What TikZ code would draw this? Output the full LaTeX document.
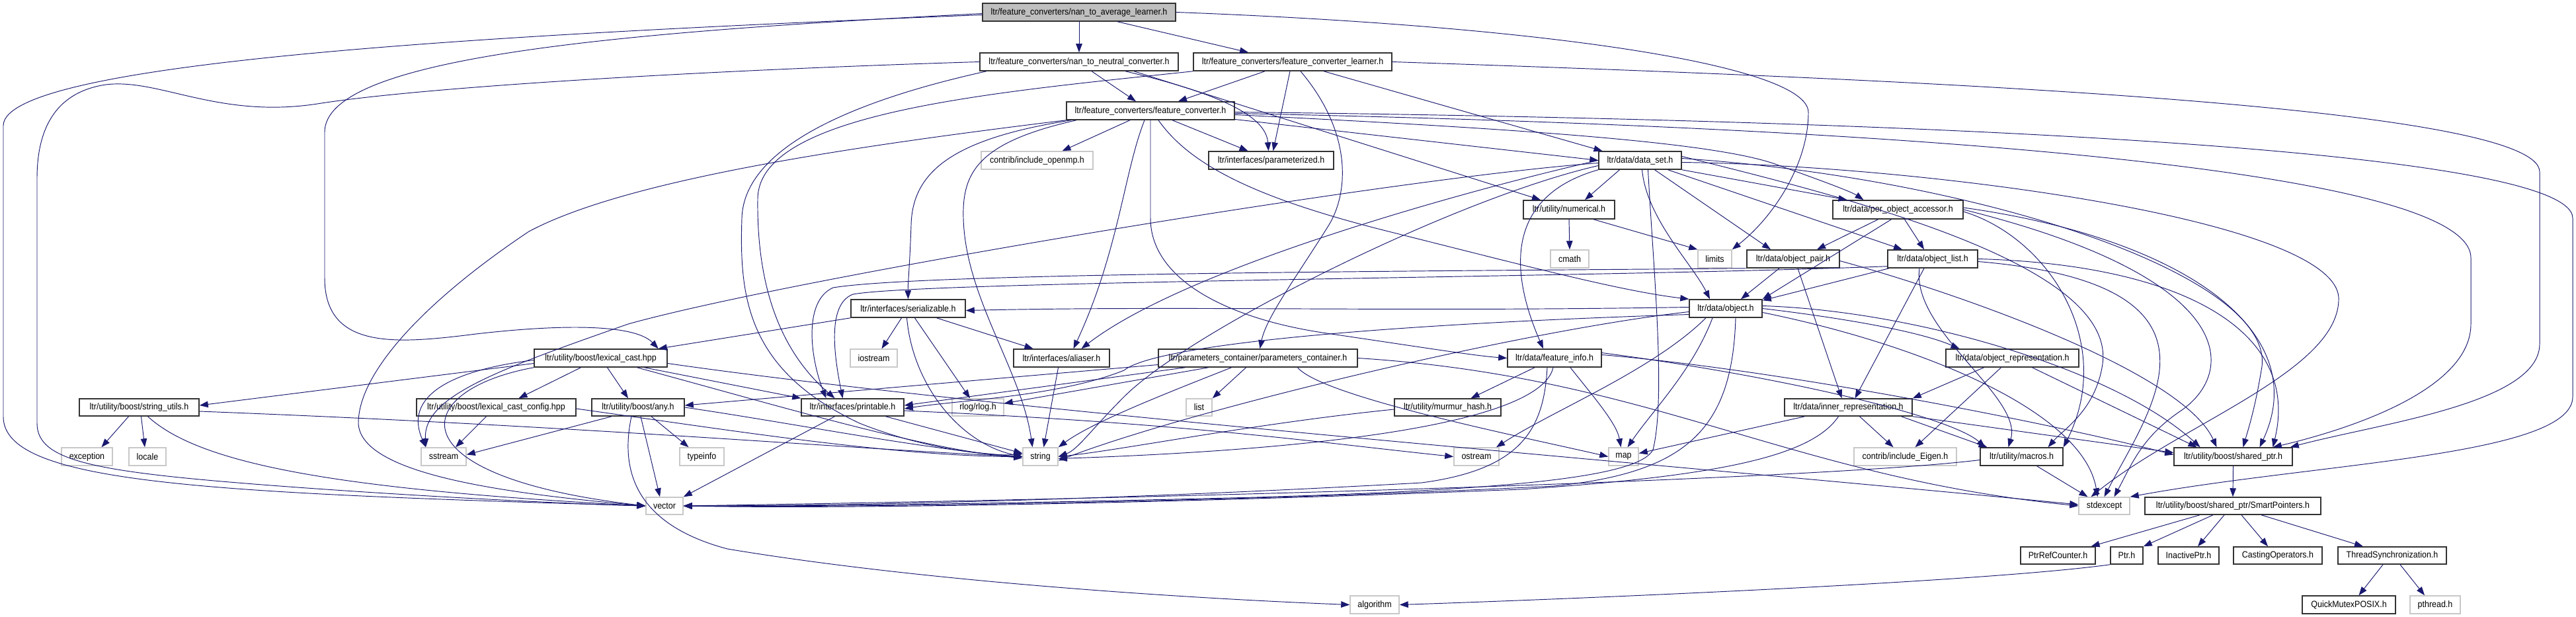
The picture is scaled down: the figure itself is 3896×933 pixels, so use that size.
\documentclass[tikz,border=0pt]{standalone}
\usepackage{fontspec}
\setmainfont{Liberation Sans}[FakeStretch=0.91]
\usetikzlibrary{arrows.meta}
\definecolor{ecol}{HTML}{191970}
\definecolor{gfill}{HTML}{BFBFBF}
\definecolor{gline}{HTML}{C8C8C8}
\tikzset{
 base/.style={rectangle, inner sep=0pt, font=\fontsize{13.7}{14}\selectfont, text=black, line width=1.5pt},
 hb/.style={base, draw=black!80, fill=white},
 gb/.style={base, draw=gline, fill=white},
 rb/.style={base, draw=black!80, fill=gfill},
 dep/.style={draw=ecol, line width=0.95pt, -{Triangle[length=13pt,width=9.5pt]}},
}
\newcommand\bx[7]{\node[#1,minimum width={(#4)-(#3)},minimum height={(#6)-(#5)}] (#2) at ({((#3)+(#4))/2},{((#5)+(#6))/2}) {#7};}
\begin{document}
\begin{tikzpicture}[x=1pt,y=-1pt]
\fill[white] (0,0) rectangle (3896,933);
\useasboundingbox (0,0) rectangle (3896,933);
% nodes
\bx{rb}{R}{1486}{1778}{5}{32}{ltr/feature\_converters/nan\_to\_average\_learner.h}
\bx{hb}{NN}{1482}{1782}{80}{107}{ltr/feature\_converters/nan\_to\_neutral\_converter.h}
\bx{hb}{FCL}{1805}{2105}{80}{107}{ltr/feature\_converters/feature\_converter\_learner.h}
\bx{hb}{FC}{1613}{1867}{154}{181}{ltr/feature\_converters/feature\_converter.h}
\bx{gb}{OMP}{1484}{1653}{229}{256}{contrib/include\_openmp.h}
\bx{hb}{PZ}{1828}{2017}{229}{256}{ltr/interfaces/parameterized.h}
\bx{hb}{DS}{2418}{2543}{229}{256}{ltr/data/data\_set.h}
\bx{hb}{NUM}{2304}{2442}{303}{331}{ltr/utility/numerical.h}
\bx{hb}{POA}{2772}{2969}{303}{331}{ltr/data/per\_object\_accessor.h}
\bx{gb}{CMATH}{2345}{2403}{378}{405}{cmath}
\bx{gb}{LIM}{2568}{2619}{378}{405}{limits}
\bx{hb}{OP}{2642}{2782}{378}{405}{ltr/data/object\_pair.h}
\bx{hb}{OL}{2855}{2991}{378}{405}{ltr/data/object\_list.h}
\bx{hb}{SER}{1287}{1460}{453}{480}{ltr/interfaces/serializable.h}
\bx{hb}{OBJ}{2555}{2665}{453}{480}{ltr/data/object.h}
\bx{gb}{IOS}{1286}{1357}{528}{555}{iostream}
\bx{hb}{AL}{1533}{1678}{528}{555}{ltr/interfaces/aliaser.h}
\bx{hb}{PC}{1752}{2053}{528}{555}{ltr/parameters\_container/parameters\_container.h}
\bx{hb}{FI}{2280}{2422}{528}{555}{ltr/data/feature\_info.h}
\bx{hb}{OR}{2943}{3144}{528}{555}{ltr/data/object\_representation.h}
\bx{hb}{LC}{808}{1009}{528}{555}{ltr/utility/boost/lexical\_cast.hpp}
\bx{hb}{SU}{120}{301}{603}{629}{ltr/utility/boost/string\_utils.h}
\bx{hb}{LCC}{630}{871}{603}{629}{ltr/utility/boost/lexical\_cast\_config.hpp}
\bx{hb}{ANY}{895}{1035}{603}{629}{ltr/utility/boost/any.h}
\bx{hb}{PR}{1212}{1367}{603}{629}{ltr/interfaces/printable.h}
\bx{gb}{RLOG}{1440}{1518}{603}{629}{rlog/rlog.h}
\bx{gb}{LIST}{1794}{1833}{603}{629}{list}
\bx{hb}{MH}{2109}{2270}{603}{629}{ltr/utility/murmur\_hash.h}
\bx{hb}{IR}{2699}{2892}{603}{629}{ltr/data/inner\_representation.h}
\bx{gb}{EXC}{93}{170}{677}{704}{exception}
\bx{gb}{LOC}{195}{251}{677}{704}{locale}
\bx{gb}{SS}{637}{705}{677}{704}{sstream}
\bx{gb}{TI}{1028}{1095}{677}{704}{typeinfo}
\bx{gb}{STR}{1547}{1600}{677}{704}{string}
\bx{gb}{OS}{2199}{2267}{677}{704}{ostream}
\bx{gb}{MAP}{2433}{2478}{677}{704}{map}
\bx{gb}{EIG}{2804}{2959}{677}{704}{contrib/include\_Eigen.h}
\bx{hb}{MAC}{2995}{3120}{677}{704}{ltr/utility/macros.h}
\bx{hb}{SP}{3288}{3467}{677}{704}{ltr/utility/boost/shared\_ptr.h}
\bx{gb}{VEC}{977}{1033}{752}{778}{vector}
\bx{gb}{SE}{3144}{3221}{752}{778}{stdexcept}
\bx{hb}{SMP}{3244}{3510}{752}{778}{ltr/utility/boost/shared\_ptr/SmartPointers.h}
\bx{hb}{PRC}{3056}{3169}{827}{853}{PtrRefCounter.h}
\bx{hb}{PTR}{3192}{3241}{827}{853}{Ptr.h}
\bx{hb}{IP}{3264}{3356}{827}{853}{InactivePtr.h}
\bx{hb}{CO}{3378}{3512}{827}{853}{CastingOperators.h}
\bx{hb}{TS}{3536}{3700}{827}{853}{ThreadSynchronization.h}
\bx{gb}{ALG}{2042}{2116}{901}{928}{algorithm}
\bx{hb}{QM}{3482}{3623}{901}{928}{QuickMutexPOSIX.h}
\bx{gb}{PT}{3645}{3721}{901}{928}{pthread.h}
% ---- edges: root
\draw[dep] (R) -- (NN);
\draw[dep] ([xshift=58]R.south) -- ([xshift=-67]FCL.north);
\draw[dep] ([yshift=-4]R.west) .. controls (800,50) and (5,90) .. (5,190) -- (5,630) .. controls (5,730) and (300,745) .. (VEC.west);
\draw[dep] ([yshift=-2]R.west) .. controls (900,50) and (491,90) .. (491,200) -- (491,420) .. controls (491,530) and (600,520) .. (720,505) .. controls (850,490) and (960,490) .. ([xshift=-14]LC.north east);
\draw[dep] (R.east) .. controls (2350,40) and (2735,100) .. (2735,170) .. controls (2735,250) and (2680,330) .. (LIM.north east);
% NN
\draw[dep] (NN.west) .. controls (1100,105) and (650,130) .. (480,157) .. controls (330,180) and (240,118) .. (160,128) .. controls (80,140) and (56,200) .. (56,270) -- (56,640) .. controls (56,700) and (150,715) .. (450,737) .. controls (700,755) and (900,763) .. (VEC.west);
\draw[dep] ([xshift=19]NN.south) -- ([xshift=-22]FC.north);
\draw[dep] ([xshift=70]NN.south) .. controls (1860,145) and (1915,180) .. ([xshift=-4]PZ.north);
\draw[dep] ([xshift=83]NN.south) -- ([xshift=-43]NUM.north);
\draw[dep] ([xshift=-140]NN.south) .. controls (1300,150) and (1125,220) .. (1122,330) .. controls (1118,450) and (1130,560) .. (1300,640) .. controls (1400,680) and (1500,690) .. ([yshift=4]STR.west);
% FCL
\draw[dep] ([xshift=-42]FCL.south) -- ([xshift=42]FC.north);
\draw[dep] ([xshift=-4]FCL.south) -- ([xshift=3]PZ.north);
\draw[dep] ([xshift=47]FCL.south) -- ([xshift=-57]DS.north);
\draw[dep] ([xshift=12]FCL.south) .. controls (2045,200) and (2040,290) .. (2010,340) .. controls (1960,420) and (1915,480) .. ([xshift=3]PC.north);
\draw[dep] (FCL.east) .. controls (2900,120) and (3841,160) .. (3841,260) -- (3841,520) .. controls (3841,610) and (3600,640) .. ([xshift=-4]SP.north east);
\draw[dep] (FCL.south west) .. controls (1500,140) and (1148,170) .. (1146,300) .. controls (1144,450) and (1190,540) .. ([xshift=-27]PR.north);
% FC
\draw[dep] ([xshift=-31]FC.south) -- ([xshift=38]OMP.north);
\draw[dep] ([xshift=33]FC.south) -- ([xshift=-35]PZ.north);
\draw[dep] ([xshift=-9]FC.south) .. controls (1700,260) and (1692,380) .. ([xshift=18]AL.north);
\draw[dep] (FC.south) -- (1740,330) .. controls (1740,420) and (1850,480) .. (2000,503) .. controls (2150,525) and (2230,538) .. (FI.west);
\draw[dep] ([xshift=12]FC.south) .. controls (1800,250) and (1900,300) .. (2100,350) .. controls (2300,400) and (2450,440) .. (OBJ.north west);
\draw[dep] ([xshift=-120]FC.south) .. controls (1440,210) and (1380,260) .. (1378,340) .. controls (1376,400) and (1373,430) .. (SER.north);
\draw[dep] ([xshift=-112]FC.south) .. controls (1480,215) and (1455,260) .. (1457,330) .. controls (1460,450) and (1545,560) .. ([xshift=-12]STR.north);
\draw[dep] ([yshift=-13]FC.east) -- (DS.west);
\draw[dep] ([yshift=-6]FC.east) .. controls (2300,195) and (2600,215) .. (2690,250) .. controls (2760,275) and (2800,290) .. ([xshift=-52]POA.north);
\draw[dep] ([yshift=-2]FC.east) .. controls (2800,180) and (3891,220) .. (3891,330) -- (3891,600) .. controls (3891,690) and (3500,700) .. (SE.north east);
\draw[dep] ([yshift=-4]FC.east) .. controls (2800,190) and (3737,250) .. (3737,390) -- (3737,490) .. controls (3737,590) and (3550,650) .. ([xshift=-30]SP.north east);
\draw[dep] (FC.south west) .. controls (1300,220) and (950,270) .. (800,350) .. controls (650,450) and (542,560) .. (542,640) .. controls (545,715) and (750,745) .. (VEC.west);
% SER
\draw[dep] (SER.south west) -- ([xshift=-14]LC.north east);
\draw[dep] ([xshift=-10]SER.south) -- ([xshift=12]IOS.north);
\draw[dep] ([xshift=10]SER.south) -- ([xshift=-12]RLOG.north);
\draw[dep] ([xshift=43]SER.south) -- ([xshift=-43]AL.north);
\draw[dep] ([xshift=-2]SER.south) .. controls (1380,580) and (1450,670) .. (STR.west);
\draw[dep] ([yshift=2]OBJ.west) .. controls (2100,472) and (1800,462) .. ([yshift=-3]SER.east);
% LC
\draw[dep] ([yshift=-8]LC.west) -- ([yshift=3]SU.east);
\draw[dep] ([xshift=-30]LC.south) -- ([xshift=34]LCC.north);
\draw[dep] ([xshift=10]LC.south) -- ([xshift=-15]ANY.north);
\draw[dep] ([xshift=66]LC.south) -- (PR.north west);
\draw[dep] ([yshift=-3]LC.west) .. controls (680,560) and (610,600) .. ([xshift=-27]SS.north);
\draw[dep] (LC.south west) .. controls (620,590) and (590,720) .. (VEC.west);
\draw[dep] ([xshift=55]LC.south) .. controls (1200,620) and (1400,680) .. ([yshift=-2]STR.west);
\draw[dep] ([yshift=-8]LC.east) .. controls (1500,620) and (2500,700) .. ([yshift=2]SE.west);
% SU
\draw[dep] ([xshift=-16]SU.south) -- ([xshift=22]EXC.north);
\draw[dep] ([xshift=3]SU.south) -- ([xshift=-4]LOC.north);
\draw[dep] ([xshift=13]SU.south) .. controls (300,700) and (500,740) .. (VEC.west);
\draw[dep] ([yshift=-6]SU.east) .. controls (900,645) and (1300,680) .. (STR.west);
% LCC
\draw[dep] ([xshift=-15]LCC.south) -- ([xshift=18]SS.north);
\draw[dep] ([yshift=-2]LCC.east) .. controls (1100,650) and (1350,690) .. (STR.west);
% ANY
\draw[dep] ([xshift=20]ANY.south) -- ([xshift=-20]TI.north);
\draw[dep] ([xshift=4]ANY.south) -- ([xshift=-7]VEC.north);
\draw[dep] ([xshift=-10]ANY.south) .. controls (940,700) and (950,790) .. (1100,830) .. controls (1400,880) and (1800,905) .. (ALG.west);
\draw[dep] (ANY.east) .. controls (1200,640) and (1400,680) .. (STR.west);
\draw[dep] ([xshift=-40]ANY.south) -- ([yshift=3]SS.east);
% PR
\draw[dep] ([xshift=-27]PR.south) -- (VEC.north east);
\draw[dep] ([xshift=50]PR.south) -- ([yshift=5]STR.west);
\draw[dep] ([yshift=-5]PR.east) .. controls (1800,640) and (2000,670) .. (OS.west);
% AL
\draw[dep] ([xshift=-5]AL.south) -- ([xshift=5]STR.north);
% PC
\draw[dep] ([xshift=-18]PC.south) -- (LIST.north east);
\draw[dep] ([xshift=-75]PC.south) -- ([yshift=6]RLOG.east);
\draw[dep] ([yshift=-10]PC.west) -- ([yshift=3]ANY.east);
\draw[dep] ([xshift=-110]PC.south) -- ([yshift=3]PR.east);
\draw[dep] ([xshift=-40]PC.south) .. controls (1750,600) and (1650,640) .. (STR.north east);
\draw[dep] (PC.east) .. controls (2500,570) and (2700,720) .. (SE.west);
\draw[dep] ([xshift=60]PC.south) .. controls (2000,600) and (2300,660) .. (MAP.west);
% FI
\draw[dep] ([xshift=-30]FI.south) -- ([xshift=35]MH.north);
\draw[dep] ([xshift=24]FI.south) .. controls (2410,600) and (2445,640) .. ([xshift=-4]MAP.north);
\draw[dep] ([xshift=-11]FI.south) .. controls (2335,650) and (2300,710) .. (2150,730) .. controls (1700,755) and (1300,765) .. (VEC.east);
\draw[dep] ([xshift=-2]FI.south) .. controls (2330,640) and (2000,680) .. ([yshift=-3]STR.east);
\draw[dep] ([yshift=5]FI.east) .. controls (2700,560) and (3100,640) .. ([yshift=3]SP.west);
\draw[dep] ([yshift=8]FI.east) .. controls (2700,570) and (2950,630) .. ([xshift=-55]MAC.north);
% MH
\draw[dep] ([yshift=-3]MH.west) .. controls (1900,640) and (1700,680) .. (STR.east);
% OBJ
\draw[dep] (OBJ.east) .. controls (2780,480) and (2900,500) .. ([xshift=-80]OR.north);
\draw[dep] ([xshift=-20]OBJ.south) .. controls (2560,560) and (2500,620) .. ([xshift=6]MAP.north);
\draw[dep] ([xshift=-30]OBJ.south) .. controls (2500,560) and (2350,620) .. ([xshift=30]OS.north);
\draw[dep] ([xshift=15]OBJ.south) .. controls (2620,650) and (2550,715) .. (2350,735) .. controls (1900,758) and (1300,768) .. (VEC.east);
\draw[dep] ([yshift=-5]OBJ.west) .. controls (2300,500) and (1800,620) .. ([yshift=-6]STR.east);
\draw[dep] ([yshift=-9]OBJ.west) .. controls (2100,490) and (1750,520) .. (1700,560) .. controls (1600,600) and (1450,605) .. ([yshift=-2]PR.east);
\draw[dep] ([yshift=4]OBJ.east) .. controls (2900,470) and (3200,560) .. ([xshift=-50]SP.north);
\draw[dep] ([yshift=-6]OBJ.east) .. controls (2900,520) and (3150,620) .. ([xshift=-10]SE.north);
% OP
\draw[dep] ([xshift=-21]OP.south) -- ([xshift=23]OBJ.north);
\draw[dep] ([xshift=7]OP.south) -- ([xshift=-10]IR.north);
\draw[dep] (OP.south west) .. controls (2200,410) and (1400,412) .. (1260,435) .. controls (1215,455) and (1225,540) .. ([xshift=-40]PR.north);
\draw[dep] ([yshift=-3]OP.east) .. controls (2950,440) and (3300,560) .. ([xshift=-25]SP.north);
% OL
\draw[dep] ([xshift=-66]OL.south) -- ([yshift=-2]OBJ.north east);
\draw[dep] ([xshift=-13]OL.south) -- ([xshift=10]IR.north);
\draw[dep] ([yshift=3]OL.south west) .. controls (2400,420) and (1400,425) .. (1290,445) .. controls (1250,460) and (1262,540) .. ([xshift=-15]PR.north);
\draw[dep] (OL.east) .. controls (3300,400) and (3480,500) .. ([xshift=60]SP.north);
\draw[dep] ([yshift=-4]OL.east) .. controls (3400,430) and (3250,620) .. (SE.north);
\draw[dep] ([xshift=-20]OL.south) .. controls (2890,500) and (3060,600) .. ([xshift=-20]MAC.north);
% POA
\draw[dep] ([xshift=-30]POA.south) -- ([xshift=36]OP.north);
\draw[dep] ([xshift=10]POA.south) -- ([xshift=-13]OL.north);
\draw[dep] ([xshift=-10]POA.south) -- (OBJ.north east);
\draw[dep] ([yshift=3]POA.east) .. controls (3300,360) and (3500,500) .. ([xshift=40]SP.north);
\draw[dep] (POA.east) .. controls (3384,420) and (3384,560) .. (3300,620) .. controls (3240,660) and (3225,700) .. ([xshift=15]SE.north);
\draw[dep] ([yshift=-3]POA.east) .. controls (3100,360) and (3200,520) .. (MAC.north east);
% DS
\draw[dep] ([xshift=-31]DS.south) -- ([xshift=24]NUM.north);
\draw[dep] ([xshift=3]DS.south) .. controls (2490,330) and (2560,400) .. ([xshift=-24]OBJ.north);
\draw[dep] ([xshift=12]DS.south) .. controls (2500,400) and (2520,600) .. (2500,680) .. controls (2480,720) and (2300,740) .. (1900,752) .. controls (1500,762) and (1200,766) .. (VEC.east);
\draw[dep] ([xshift=22]DS.south) -- ([xshift=-34]OP.north);
\draw[dep] ([xshift=42]DS.south) -- ([xshift=-46]OL.north);
\draw[dep] (DS.south east) -- ([xshift=-77]POA.north);
\draw[dep] (DS.south west) .. controls (2300,290) and (2270,380) .. ([xshift=-17]FI.north);
\draw[dep] (DS.west) .. controls (2250,280) and (1800,400) .. ([xshift=30]AL.north);
\draw[dep] ([yshift=-4]DS.west) .. controls (2100,270) and (1200,420) .. (950,490) .. controls (750,560) and (640,600) .. ([xshift=-27]SS.north);
\draw[dep] ([yshift=-8]DS.west) .. controls (2200,300) and (1800,500) .. (1700,600) .. controls (1650,650) and (1630,680) .. (STR.east);
\draw[dep] ([yshift=3]DS.east) .. controls (3000,270) and (3450,420) .. (3420,560) .. controls (3410,620) and (3400,650) .. ([xshift=15]SP.north);
\draw[dep] ([yshift=-3]DS.east) .. controls (2900,250) and (3530,330) .. (3537,450) .. controls (3540,560) and (3300,640) .. ([xshift=-20]SE.north);
\draw[dep] ([yshift=6]DS.east) .. controls (2800,300) and (3200,400) .. (3180,550) .. controls (3170,620) and (3120,650) .. ([xshift=40]MAC.north);
% IR
\draw[dep] ([xshift=17]IR.south) -- ([xshift=-18]EIG.north);
\draw[dep] ([xshift=-66]IR.south) -- ([yshift=5]MAP.east);
\draw[dep] ([xshift=-15]IR.south) .. controls (2740,690) and (2600,720) .. (2300,740) .. controls (1800,760) and (1300,770) .. (VEC.east);
\draw[dep] ([xshift=80]IR.south) -- ([xshift=-52]MAC.north);
\draw[dep] (IR.south east) -- ([yshift=6]SP.west);
% OR
\draw[dep] ([xshift=-43]OR.south) -- (IR.north east);
\draw[dep] ([xshift=-17]OR.south) -- ([xshift=15]EIG.north);
\draw[dep] ([xshift=30]OR.south) -- ([xshift=-55]SP.north);
% MAC
\draw[dep] ([xshift=23]MAC.south) -- ([xshift=-25]SE.north);
\draw[dep] ([yshift=-5]MAC.west) .. controls (2800,720) and (2000,750) .. (VEC.east);
% SP & smart pointers
\draw[dep] (SP.south) -- (SMP.north);
\draw[dep] ([xshift=-50]SMP.south) -- ([xshift=50]PRC.north);
\draw[dep] ([xshift=-30]SMP.south) -- (PTR.north east);
\draw[dep] ([xshift=-13]SMP.south) -- ([xshift=14]IP.north);
\draw[dep] ([xshift=13]SMP.south) -- ([xshift=-15]CO.north);
\draw[dep] ([xshift=43]SMP.south) -- ([xshift=-44]TS.north);
\draw[dep] ([xshift=-14]TS.south) -- ([xshift=15]QM.north);
\draw[dep] ([xshift=12]TS.south) -- ([xshift=-16]PT.north);
\draw[dep] (PTR.south west) .. controls (3000,880) and (2400,905) .. (ALG.east);
% NUM
\draw[dep] (NUM.south) -- (CMATH.north);
\draw[dep] ([xshift=37]NUM.south) -- (LIM.north west);
\end{tikzpicture}
\end{document}
